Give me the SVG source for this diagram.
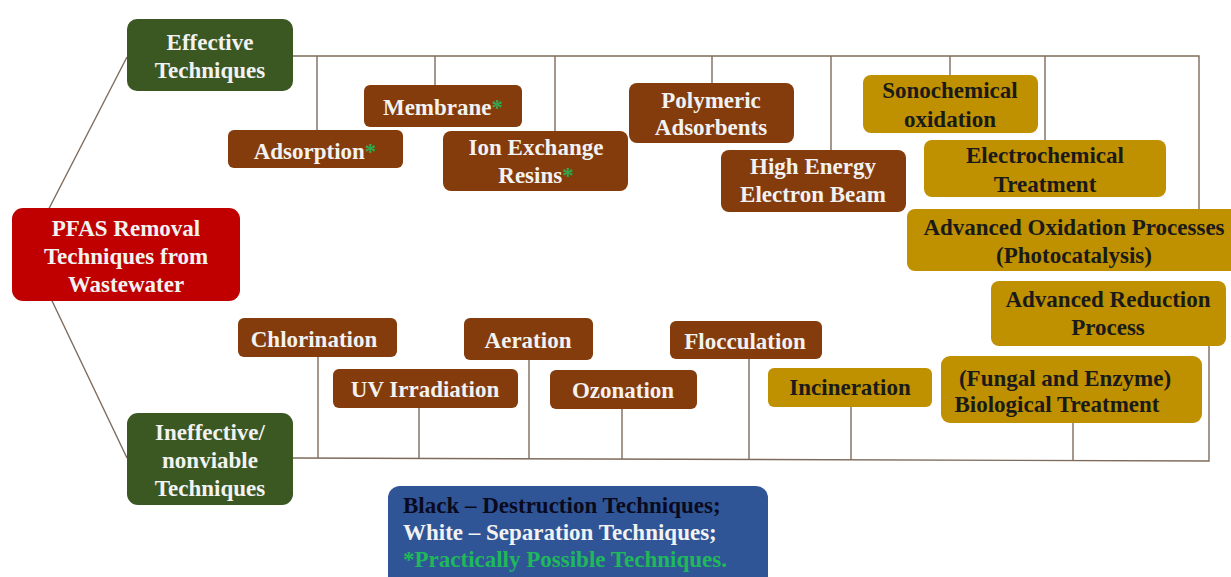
<svg xmlns="http://www.w3.org/2000/svg" width="1231" height="577" viewBox="0 0 1231 577">
<style>
.c{stroke:#7f6b5b;stroke-width:1.4;fill:none}
.g rect{fill:#3b5823}
.r rect{fill:#c00000}
.b rect{fill:#843c0c}
.y rect{fill:#bf9000}
text{font-family:"Liberation Serif","Times New Roman",serif;font-weight:bold;font-size:23px;text-anchor:middle}
.g text,.r text,.b text{fill:#f2f2f2}
.y text{fill:#1a1a1a}
.s{fill:#2fa84f}
</style>
<rect width="1231" height="577" fill="#ffffff"/>
<g id="connectors">
<line class="c" x1="127" y1="57" x2="40" y2="226"/>
<line class="c" x1="44" y1="284" x2="127" y2="458"/>
<polyline class="c" points="293,56 1199,56 1199,209"/>
<line class="c" x1="317" y1="56" x2="317" y2="130"/>
<line class="c" x1="435" y1="56" x2="435" y2="85"/>
<line class="c" x1="555" y1="56" x2="555" y2="131"/>
<line class="c" x1="712" y1="56" x2="712" y2="83"/>
<line class="c" x1="831" y1="56" x2="831" y2="150"/>
<line class="c" x1="950" y1="56" x2="950" y2="75"/>
<line class="c" x1="1045" y1="56" x2="1045" y2="140"/>
<polyline class="c" points="293,458 1209,461 1209,346"/>
<line class="c" x1="318" y1="357" x2="318" y2="458"/>
<line class="c" x1="419" y1="408" x2="419" y2="459"/>
<line class="c" x1="529" y1="360" x2="529" y2="459"/>
<line class="c" x1="622" y1="409" x2="622" y2="459"/>
<line class="c" x1="749" y1="359" x2="749" y2="460"/>
<line class="c" x1="851" y1="407" x2="851" y2="460"/>
<line class="c" x1="1073" y1="423" x2="1073" y2="460"/>
</g>
<g id="effective" class="g"><rect x="127" y="19" width="166" height="72" rx="10"/><text x="210" y="50">Effective</text><text x="210" y="78">Techniques</text></g>
<g id="pfas" class="r"><rect x="12" y="208" width="228" height="93" rx="11"/><text x="126" y="236">PFAS Removal</text><text x="126" y="264">Techniques from</text><text x="126" y="292">Wastewater</text></g>
<g id="ineffective" class="g"><rect x="127" y="413" width="166" height="92" rx="11"/><text x="210" y="440">Ineffective/</text><text x="210" y="468">nonviable</text><text x="210" y="496">Techniques</text></g>
<g id="adsorption" class="b"><rect x="228" y="130" width="175" height="38" rx="6"/><text x="315" y="159">Adsorption<tspan class="s">*</tspan></text></g>
<g id="membrane" class="b"><rect x="364" y="85" width="158" height="42" rx="6"/><text x="443" y="115">Membrane<tspan class="s">*</tspan></text></g>
<g id="ionexchange" class="b"><rect x="443" y="131" width="185" height="60" rx="8"/><text x="536" y="155">Ion Exchange</text><text x="536" y="183">Resins<tspan class="s">*</tspan></text></g>
<g id="polymeric" class="b"><rect x="629" y="83" width="165" height="60" rx="8"/><text x="711" y="108">Polymeric</text><text x="711" y="135">Adsorbents</text></g>
<g id="electronbeam" class="b"><rect x="721" y="150" width="185" height="62" rx="8"/><text x="813" y="174">High Energy</text><text x="813" y="202">Electron Beam</text></g>
<g id="sonochemical" class="y"><rect x="863" y="75" width="175" height="58" rx="8"/><text x="950" y="98">Sonochemical</text><text x="950" y="127">oxidation</text></g>
<g id="electrochemical" class="y"><rect x="924" y="140" width="242" height="57" rx="8"/><text x="1045" y="163">Electrochemical</text><text x="1045" y="192">Treatment</text></g>
<g id="aop" class="y"><rect x="907" y="209" width="334" height="62" rx="8"/><text x="1074" y="235">Advanced Oxidation Processes</text><text x="1074" y="263">(Photocatalysis)</text></g>
<g id="arp" class="y"><rect x="991" y="281" width="235" height="65" rx="8"/><text x="1108" y="307">Advanced Reduction</text><text x="1108" y="335">Process</text></g>
<g id="biological" class="y"><rect x="941" y="356" width="261" height="67" rx="9"/><text x="1065" y="386">(Fungal and Enzyme)</text><text x="1057" y="412">Biological Treatment</text></g>
<g id="incineration" class="y"><rect x="768" y="368" width="164" height="39" rx="6"/><text x="850" y="395">Incineration</text></g>
<g id="chlorination" class="b"><rect x="238" y="318" width="159" height="39" rx="6"/><text x="314" y="347">Chlorination</text></g>
<g id="uv" class="b"><rect x="333" y="369" width="185" height="39" rx="6"/><text x="425" y="397">UV Irradiation</text></g>
<g id="aeration" class="b"><rect x="464" y="318" width="129" height="42" rx="6"/><text x="528" y="348">Aeration</text></g>
<g id="ozonation" class="b"><rect x="550" y="370" width="147" height="39" rx="6"/><text x="623" y="398">Ozonation</text></g>
<g id="flocculation" class="b"><rect x="670" y="321" width="152" height="38" rx="6"/><text x="745" y="349">Flocculation</text></g>
<g id="legend"><rect x="388" y="486" width="380" height="110" rx="12" fill="#2f5597"/>
<text x="403" y="513" style="text-anchor:start;fill:#0a0a1e">Black – Destruction Techniques;</text>
<text x="403" y="540" style="text-anchor:start;fill:#f2f2f2">White – Separation Techniques;</text>
<text x="403" y="567" style="text-anchor:start;fill:#1fb85a">*Practically Possible Techniques.</text></g>
</svg>
